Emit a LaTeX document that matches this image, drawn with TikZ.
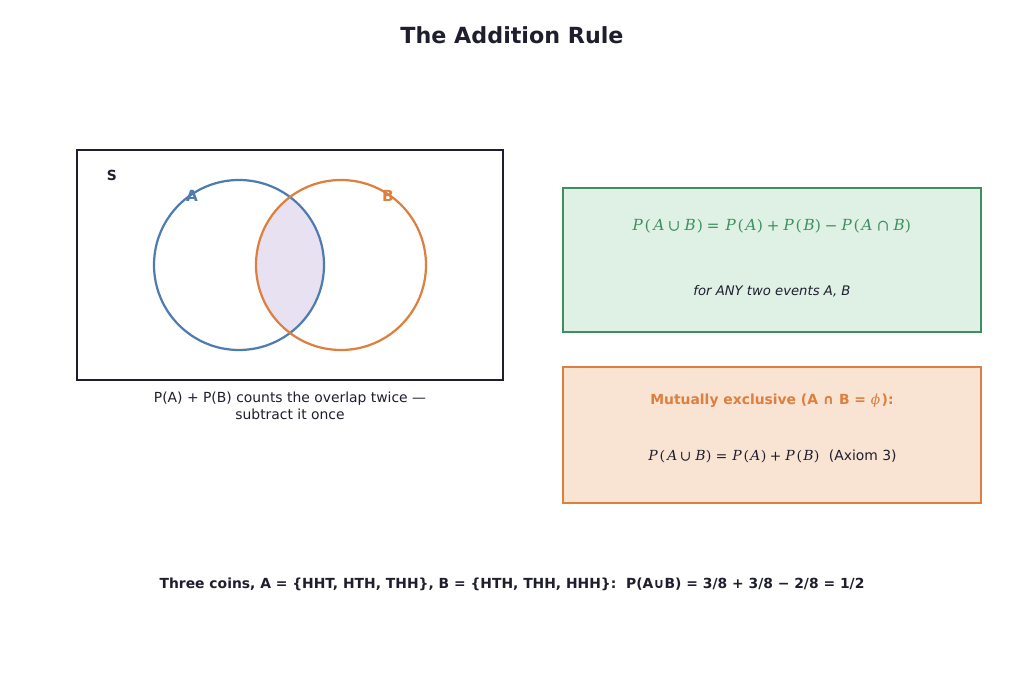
\documentclass[tikz,border=0pt]{standalone}
\usepackage{fontspec}
\setmainfont{DejaVu Sans}
\usepackage{unicode-math}
\setmathfont{DejaVu Math TeX Gyre}
\definecolor{ink}{HTML}{1E1E2E}
\definecolor{setA}{HTML}{4E7BB0}
\definecolor{setB}{HTML}{DD7F3E}
\definecolor{rulegreen}{HTML}{3F8F5E}
\definecolor{greenfill}{HTML}{DFF0E5}
\definecolor{orangefill}{HTML}{F9E3D3}
\definecolor{lens}{HTML}{E8E1F2}
\tikzset{
  ruleBox/.style={line width=1.4pt},
  circ/.style={line width=1.6pt},
  txt/.style={text=ink, font=\fontsize{10}{12}\selectfont, align=center}
}
\begin{document}
\begin{tikzpicture}[x=0.72pt,y=-0.72pt]
  \useasboundingbox (0,0) rectangle (1024,683);

  % title
  \node[text=ink, font=\fontsize{16}{19}\selectfont\bfseries] (title) at (512,35) {The Addition Rule};

  % sample space and events
  \fill[lens] (0,0) circle[radius=0];
  \begin{scope}
    \clip (239,265) circle[radius=85];
    \fill[lens] (341,265) circle[radius=85];
  \end{scope}
  \draw[ink, line width=1.1pt] (77,150) rectangle (503,380);
  \draw[circ, setA] (239,265) circle[radius=85];
  \draw[circ, setB] (341,265) circle[radius=85];
  \node[text=ink, font=\fontsize{10}{12}\selectfont\bfseries] (labS) at (112,175) {S};
  \node[text=setA, font=\fontsize{11}{13}\selectfont\bfseries] (labA) at (192,196) {A};
  \node[text=setB, font=\fontsize{11}{13}\selectfont\bfseries] (labB) at (388,196) {B};
  \node[txt] (note) at (290,406) {P(A) + P(B) counts the overlap twice —\\subtract it once};

  % general rule
  \draw[ruleBox, rulegreen, fill=greenfill] (563,188) rectangle (981,332);
  \node[text=rulegreen, font=\fontsize{11}{13}\selectfont] (gen) at (772,226)
    {$P(A\cup B)=P(A)+P(B)-P(A\cap B)$};
  \node[txt, font=\fontsize{9.5}{12}\selectfont\itshape] (any) at (772,291) {for ANY two events A, B};

  % mutually exclusive case
  \draw[ruleBox, setB, fill=orangefill] (563,367) rectangle (981,503);
  \node[text=setB, font=\fontsize{10}{12}\selectfont\bfseries] (mex) at (772,401)
    {Mutually exclusive (A ∩ B = $\phi$):};
  \node[txt] (ax) at (772,456) {$P(A\cup B)=P(A)+P(B)$\ \ (Axiom 3)};

  % example
  \node[text=ink, font=\fontsize{10}{12}\selectfont\bfseries] (coins) at (512,584)
    {Three coins, A = \{HHT, HTH, THH\}, B = \{HTH, THH, HHH\}:\ \ P(A∪B) = 3/8 + 3/8 − 2/8 = 1/2};
\end{tikzpicture}
\end{document}
